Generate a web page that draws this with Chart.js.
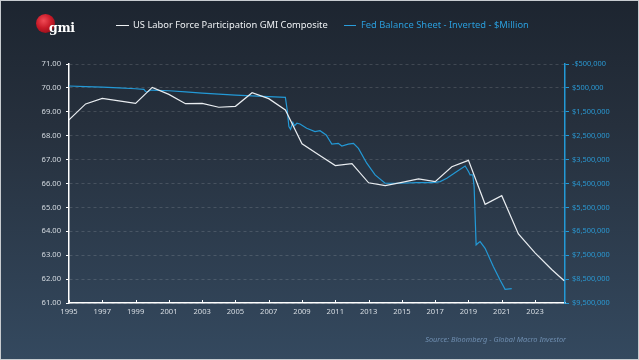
<!DOCTYPE html>
<html><head><meta charset="utf-8">
<script src="https://cdn.jsdelivr.net/npm/chart.js@4"></script>
<style>
html,body{margin:0;padding:0;background:#1e2631;}
#wrap{position:relative;width:639px;height:360px;overflow:hidden;background:linear-gradient(to bottom,#1d2530 0%,#26303d 35%,#34495f 100%);}
#frame{position:absolute;left:0;top:0;width:639px;height:360px;box-sizing:border-box;border:1px solid #c8ccd0;pointer-events:none;}
canvas{position:absolute;left:0;top:0;}
.lg{position:absolute;top:18px;font-family:"Noto Sans",sans-serif;font-size:9.35px;line-height:14px;white-space:nowrap;}
.dash{position:absolute;top:7px;height:1px;}
#logo{position:absolute;left:36px;top:14px;width:40px;height:26px;}
#ball{position:absolute;left:0;top:0;width:19px;height:19px;border-radius:50%;background:radial-gradient(circle at 40% 35%,#f04a55 0%,#c81a28 45%,#7a0a14 100%);}
#gmi{position:absolute;left:13px;top:7px;font-family:"DejaVu Serif","Liberation Serif",serif;font-weight:bold;font-size:12.5px;color:#fff;letter-spacing:-0.3px;line-height:14px;}
#src{position:absolute;right:73px;top:334px;font-family:"Noto Sans",sans-serif;font-style:italic;font-size:7.4px;color:#6f8eb0;white-space:nowrap;}
</style></head>
<body>
<div id="wrap">
<canvas id="c" width="639" height="360"></canvas>
<div id="logo"><div id="ball"></div><div id="gmi">gmi</div></div>
<div class="lg" id="lg1" style="left:116px;color:#eef1f4;"><span class="dash" style="left:0;width:13px;background:#eef1f4;"></span><span id="t1" style="position:absolute;left:17px;top:0;">US Labor Force Participation GMI Composite</span></div>
<div class="lg" id="lg2" style="left:344px;color:#2a9ddb;"><span class="dash" style="left:0;width:12px;background:#2a9ddb;"></span><span id="t2" style="position:absolute;left:17px;top:0;">Fed Balance Sheet - Inverted - $Million</span></div>
<div id="src">Source: Bloomberg - Global Macro Investor</div>
<div id="frame"></div>
</div>
<script>
// ---- DATA ----
const lfYears = [1995,1996,1997,1998,1999,2000,2001,2002,2003,2004,2005,2006,2007,2008,2009,2010,2011,2012,2013,2014,2015,2016,2017,2018,2019,2020,2021,2022,2023,2024,2024.75];
const lfValues = [68.66,69.33,69.56,69.46,69.35,70.02,69.73,69.34,69.35,69.19,69.23,69.80,69.55,69.08,67.66,67.20,66.75,66.83,66.03,65.91,66.05,66.19,66.08,66.70,66.97,65.13,65.49,63.89,63.10,62.40,61.93];

const fedDates = [1995.0,1996.0,1997.0,1998.0,1999.0,1999.5,1999.6,1999.75,1999.9,2001.0,2002.0,2003.0,2004.0,2005.0,2006.0,2007.0,2008.0,2008.11,2008.21,2008.31,2008.45,2008.55,2008.69,2008.88,2009.28,2009.78,2010.08,2010.45,2010.79,2011.18,2011.39,2011.78,2012.09,2012.39,2012.89,2013.39,2013.99,2014.89,2015.9,2016.89,2017.3,2017.7,2018.3,2018.8,2019.0,2019.1,2019.26,2019.34,2019.46,2019.6,2019.7,2020.0,2020.5,2020.9,2021.2,2021.6];
const fedValues = [420000,445000,470000,500000,535000,560000,650000,660000,590000,620000,670000,720000,760000,800000,830000,865000,893000,1425000,2120000,2230000,1940000,2080000,1980000,2010000,2190000,2330000,2290000,2470000,2850000,2820000,2930000,2850000,2820000,3030000,3650000,4140000,4490000,4490000,4460000,4460000,4420000,4280000,4000000,3770000,4000000,4140000,4140000,4630000,7070000,6980000,6930000,7210000,7980000,8540000,8930000,8900000];

const xTickYears = [1995,1997,1999,2001,2003,2005,2007,2009,2011,2013,2015,2017,2019,2021,2023];
const leftTicks = [61,62,63,64,65,66,67,68,69,70,71];
const rightTicks = [-500000,500000,1500000,2500000,3500000,4500000,5500000,6500000,7500000,8500000,9500000];

// ---- CHART ----
const WHITE = '#e9edf1';
const BLUE = '#2399d6';
const FONT = '"Noto Sans", sans-serif';

const innerTicks = {
  id: 'innerTicks',
  afterDraw(chart) {
    const s = chart.scales.x, ctx = chart.ctx, b = chart.chartArea.bottom;
    ctx.save();
    ctx.strokeStyle = '#ffffff';
    ctx.lineWidth = 1;
    s.ticks.forEach(t => {
      const px = Math.round(s.getPixelForValue(t.value)) + 0.5;
      ctx.beginPath(); ctx.moveTo(px, b); ctx.lineTo(px, b - 3); ctx.stroke();
    });
    ctx.restore();
  }
};

new Chart(document.getElementById('c'), {
  type: 'line',
  data: {
    datasets: [
      { label: 'US Labor Force Participation GMI Composite', data: lfYears.map((x, i) => ({x, y: lfValues[i]})), yAxisID: 'y', borderColor: WHITE, borderWidth: 1.2, pointRadius: 0, tension: 0, order: 1 },
      { label: 'Fed Balance Sheet - Inverted - $Million', data: fedDates.map((x, i) => ({x, y: fedValues[i]})), yAxisID: 'y2', borderColor: BLUE, borderWidth: 1.2, pointRadius: 0, tension: 0, order: 2 }
    ]
  },
  options: {
    responsive: false,
    animation: false,
    layout: { padding: { top: 64, left: 0, right: 0, bottom: 0 } },
    plugins: { legend: { display: false }, tooltip: { enabled: false } },
    scales: {
      x: {
        type: 'linear', min: 1995, max: 2024.8,
        afterBuildTicks: s => { s.ticks = xTickYears.map(v => ({value: v})); },
        afterFit: s => { s.height = 57; },
        ticks: { callback: v => String(v), color: '#d6dce2', font: { size: 7.6, family: FONT }, padding: 4, maxRotation: 0, autoSkip: false },
        grid: { display: true, drawOnChartArea: false, drawTicks: false },
        border: { color: '#ffffff', width: 1.5 }
      },
      y: {
        position: 'left', min: 61, max: 71,
        afterBuildTicks: s => { s.ticks = leftTicks.map(v => ({value: v})); },
        afterFit: s => { s.width = 69; },
        ticks: { callback: v => Number(v).toFixed(2), color: '#d6dce2', font: { size: 7.6, family: FONT }, padding: 5 },
        grid: { color: 'rgba(255,255,255,0.14)', tickColor: '#ffffff', tickLength: 3, lineWidth: 1 },
        border: { color: '#ffffff', width: 1.5, dash: [3, 3] }
      },
      y2: {
        position: 'right', reverse: true, min: -500000, max: 9500000,
        afterBuildTicks: s => { s.ticks = rightTicks.map(v => ({value: v})); },
        afterFit: s => { s.width = 74; },
        ticks: { callback: v => (v < 0 ? '-$' : '$') + Math.abs(v).toLocaleString('en-US'), color: '#2a98d2', font: { size: 7.4, family: FONT }, padding: 3 },
        grid: { drawOnChartArea: false, tickColor: BLUE, tickLength: 4 },
        border: { color: BLUE, width: 1.5 }
      }
    }
  },
  plugins: [innerTicks]
});
</script>
</body></html>
